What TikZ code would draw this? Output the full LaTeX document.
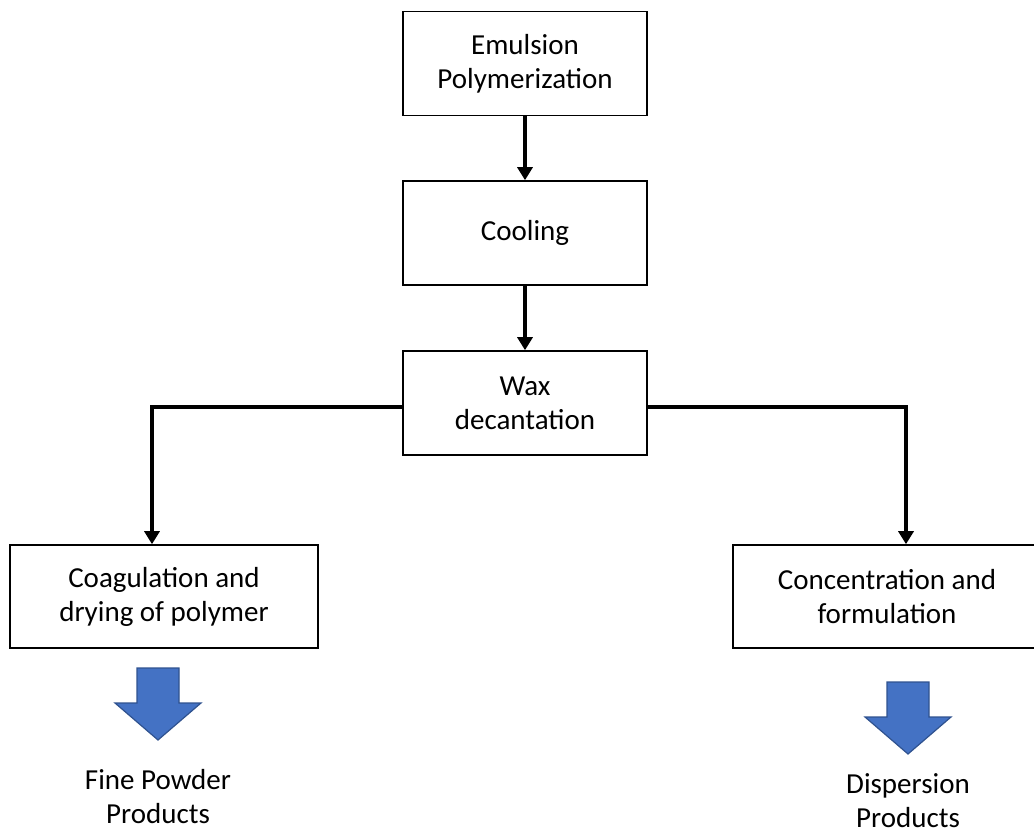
\documentclass[tikz,border=0pt]{standalone}
\usepackage{fontspec}
\setmainfont{Carlito}
\usetikzlibrary{arrows.meta,positioning}
\definecolor{arrowblue}{HTML}{4472C4}
\definecolor{arrowedge}{HTML}{2F528F}

\begin{document}
\begin{tikzpicture}[
        x=1pt, y=-1pt,
        font=\fontsize{29}{34}\selectfont,
        box/.style={
            draw, line width=1.6pt, align=center,
            minimum width=244pt, minimum height=104pt, inner sep=0pt
        },
        widebox/.style={box, minimum width=308pt, minimum height=103pt},
        arrow/.style={-{Triangle[width=15pt,length=13pt]}, line width=3.5pt},
        bigarrow/.style={fill=arrowblue, draw=arrowedge, line width=1.2pt, line join=miter},
        outtext/.style={align=center, inner sep=0pt}
    ]

    \clip (0,0) rectangle (1034,834);

    % Main stack
    \node[box] (emul) at (525,63.5) {Emulsion\\Polymerization};
    \node[box] (cool) at (525,233) {Cooling};
    \node[box] (wax) at (525,403) {Wax\\decantation};

    % Two branches
    \node[widebox] (coag) at (164,596.5) {Coagulation and\\drying of polymer};
    \node[widebox] (conc) at (887,596.5) {Concentration and\\formulation};

    \coordinate (lturn) at (152,407);
    \coordinate (rturn) at (906,407);

    \draw[arrow] (emul) -- (cool);
    \draw[arrow] (cool) -- (wax);
    \draw[arrow] (wax.west |- lturn) -- (lturn) -- (lturn |- coag.north);
    \draw[arrow] (wax.east |- rturn) -- (rturn) -- (rturn |- conc.north);

    % Products
    \coordinate (ltop) at (158,668);
    \coordinate (rtop) at (908,682);
    \draw[bigarrow] (ltop) +(-21,0) -- +(21,0) -- +(21,35) -- +(43,35) -- +(0,72) -- +(-43,35) -- +(-21,35) -- cycle;
    \draw[bigarrow] (rtop) +(-21,0) -- +(21,0) -- +(21,35) -- +(43,35) -- +(0,72) -- +(-43,35) -- +(-21,35) -- cycle;

    \node[outtext] (fine) at (158,797) {Fine Powder\\Products};
    \node[outtext] (disp) at (908,801) {Dispersion\\Products};

\end{tikzpicture}
\end{document}
